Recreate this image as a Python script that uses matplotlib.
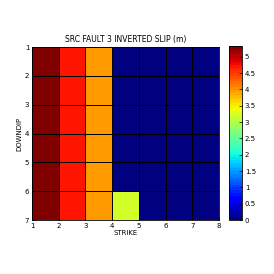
import numpy as np
import matplotlib.pyplot as plt

strike_edges = [1, 2, 3, 4, 5, 6, 7, 8]
dip_edges = [1, 2, 3, 4, 5, 6, 7]
# slip per subfault (rows = downdip 1..6, cols = strike 1..7)
slip = np.array([
    [5.33, 4.73, 3.94, 0, 0, 0, 0],
    [5.33, 4.73, 3.94, 0, 0, 0, 0],
    [5.33, 4.73, 3.94, 0, 0, 0, 0],
    [5.33, 4.73, 3.94, 0, 0, 0, 0],
    [5.33, 4.73, 3.94, 0, 0, 0, 0],
    [5.33, 4.73, 3.94, 3.22, 0, 0, 0],
])
cbar_ticks = [0, 0.5, 1, 1.5, 2, 2.5, 3, 3.5, 4, 4.5, 5]

fig = plt.figure(figsize=(2.74, 2.74), dpi=100)
ax = fig.add_axes([0.117, 0.197, 0.682, 0.631])
cax = fig.add_axes([0.836, 0.197, 0.047, 0.635])

mesh = ax.pcolormesh(strike_edges, dip_edges, slip, cmap=plt.get_cmap('jet', 64),
                     vmin=0, vmax=slip.max(), edgecolors='black', linewidth=0.5)
ax.set_xlim(1, 8)
ax.set_ylim(7, 1)
ax.set_xticks(strike_edges)
ax.set_yticks(dip_edges)
ax.tick_params(direction='in', labelsize=5, length=2, width=0.5, pad=2)
ax.set_xlabel('STRIKE', fontsize=5, labelpad=1)
ax.set_ylabel('DOWNDIP', fontsize=5, labelpad=2)
ax.set_title('SRC FAULT 3 INVERTED SLIP (m)', fontsize=5.5, pad=4)
for s in ax.spines.values():
    s.set_linewidth(0.6)

cb = fig.colorbar(mesh, cax=cax, ticks=cbar_ticks)
cb.ax.set_yticklabels(['0', '0.5', '1', '1.5', '2', '2.5', '3', '3.5', '4', '4.5', '5'])
cb.ax.tick_params(direction='in', labelsize=5, length=2, width=0.5, pad=2)
cb.outline.set_linewidth(0.6)

fig.savefig('out.png', dpi=100)
